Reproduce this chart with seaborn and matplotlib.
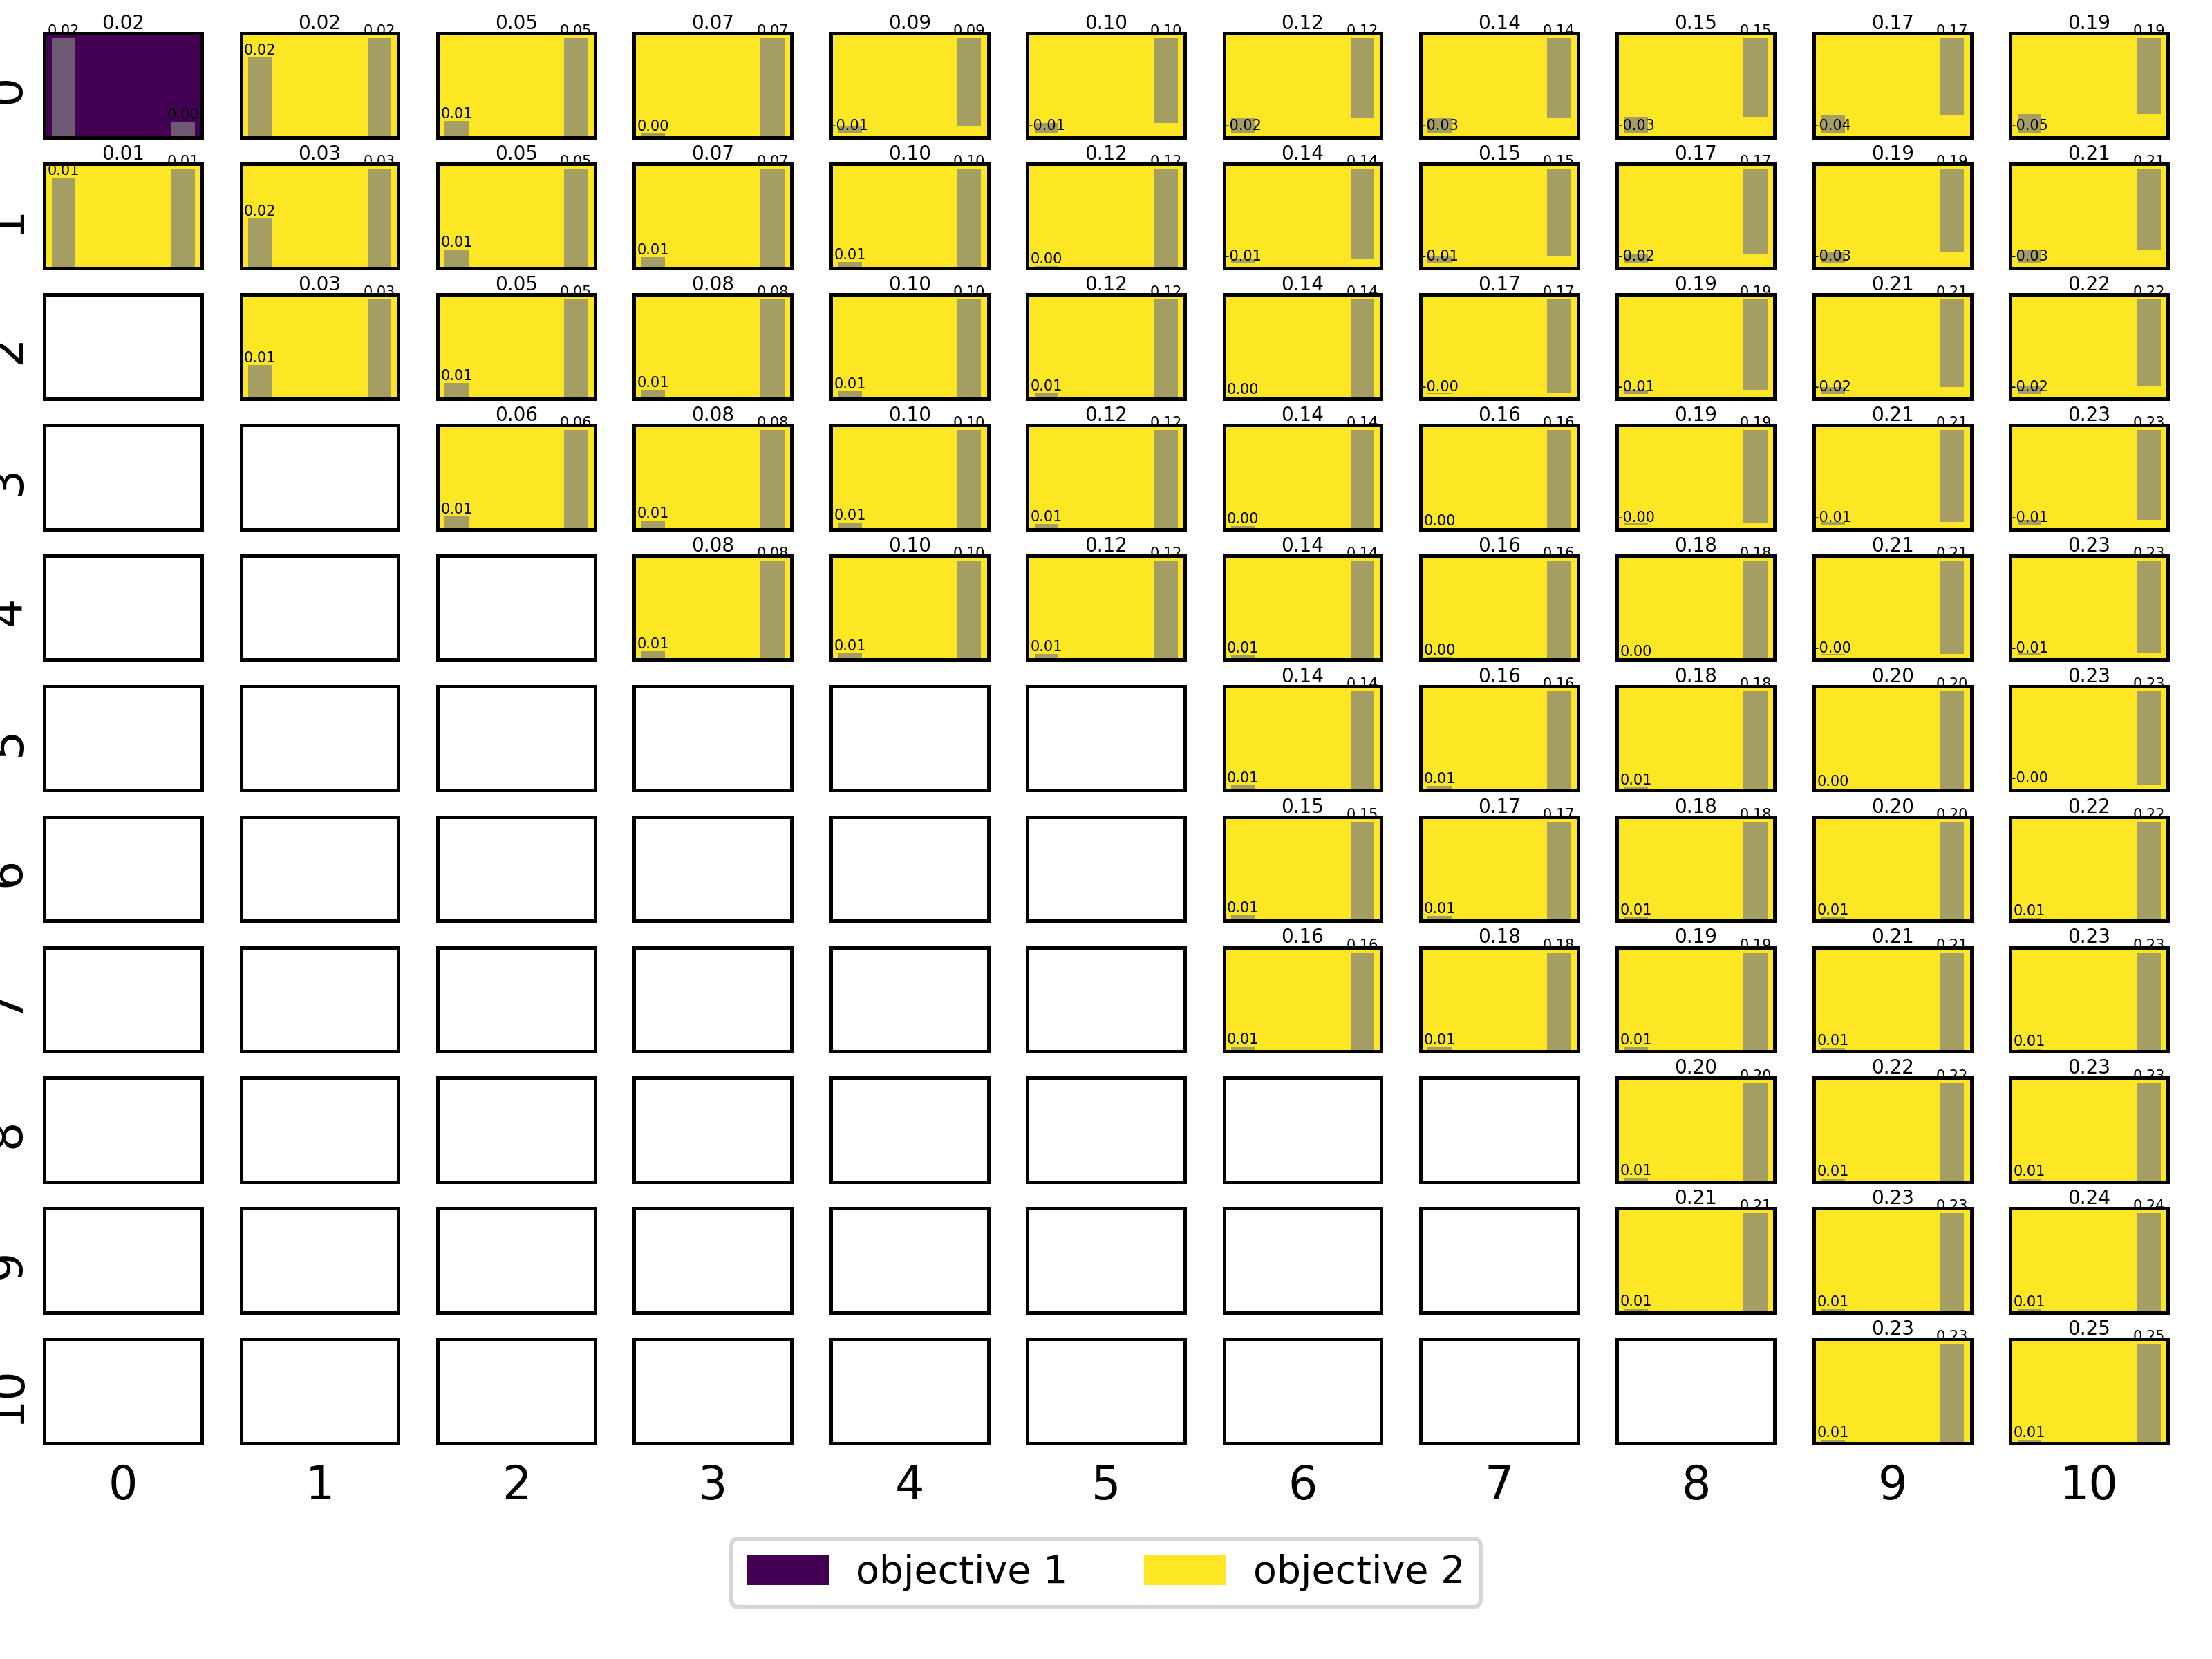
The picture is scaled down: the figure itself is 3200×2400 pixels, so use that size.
import numpy as np
import pandas as pd
import matplotlib
matplotlib.use("Agg")
import matplotlib.pyplot as plt
import seaborn as sns
from matplotlib.patches import Patch

nan = np.nan

row_labels = [str(i) for i in range(11)]
col_labels = [str(j) for j in range(11)]
legend_labels = ["objective 1", "objective 2"]

# value of objective 1 (left bar) per cell, NaN = empty cell
objective1 = [
    [0.021, 0.0181, 0.0083, 0.003, -0.007, -0.012, -0.022, -0.026, -0.031, -0.039, -0.046],
    [0.0096, 0.016, 0.0096, 0.008, 0.006, 0.002, -0.007, -0.013, -0.020, -0.026, -0.033],
    [nan, 0.0105, 0.0083, 0.007, 0.007, 0.006, 0.003, -0.002, -0.008, -0.016, -0.021],
    [nan, nan, 0.0074, 0.007, 0.007, 0.006, 0.004, 0.002, -0.002, -0.006, -0.011],
    [nan, nan, nan, 0.007, 0.007, 0.007, 0.006, 0.004, 0.002, -0.002, -0.006],
    [nan, nan, nan, nan, nan, nan, 0.007, 0.007, 0.006, 0.003, -0.002],
    [nan, nan, nan, nan, nan, nan, 0.008, 0.008, 0.007, 0.007, 0.006],
    [nan, nan, nan, nan, nan, nan, 0.008, 0.008, 0.008, 0.007, 0.007],
    [nan, nan, nan, nan, nan, nan, nan, nan, 0.008, 0.008, 0.008],
    [nan, nan, nan, nan, nan, nan, nan, nan, 0.008, 0.008, 0.008],
    [nan, nan, nan, nan, nan, nan, nan, nan, nan, 0.008, 0.008],
]

# value of objective 2 (right bar) per cell
objective2 = [
    [0.0033, 0.0224, 0.051, 0.070, 0.088, 0.104, 0.121, 0.138, 0.154, 0.171, 0.188],
    [0.0105, 0.032, 0.052, 0.072, 0.096, 0.118, 0.136, 0.153, 0.171, 0.189, 0.207],
    [nan, 0.031, 0.053, 0.077, 0.099, 0.120, 0.142, 0.166, 0.187, 0.207, 0.224],
    [nan, nan, 0.057, 0.080, 0.101, 0.122, 0.143, 0.164, 0.186, 0.208, 0.229],
    [nan, nan, nan, 0.082, 0.102, 0.123, 0.143, 0.163, 0.183, 0.206, 0.227],
    [nan, nan, nan, nan, nan, nan, 0.144, 0.164, 0.184, 0.204, 0.226],
    [nan, nan, nan, nan, nan, nan, 0.146, 0.166, 0.184, 0.203, 0.221],
    [nan, nan, nan, nan, nan, nan, 0.162, 0.178, 0.194, 0.210, 0.227],
    [nan, nan, nan, nan, nan, nan, nan, nan, 0.198, 0.217, 0.232],
    [nan, nan, nan, nan, nan, nan, nan, nan, 0.212, 0.228, 0.243],
    [nan, nan, nan, nan, nan, nan, nan, nan, nan, 0.232, 0.248],
]

W, H, DPI = 3200, 2400, 200
fig = plt.figure(figsize=(W / DPI, H / DPI), dpi=DPI)
cmap = plt.get_cmap("viridis")
c1, c2 = cmap(0.0), cmap(1.0)


def px_axes(left, top, width, height):
    return fig.add_axes([left / W, 1 - (top + height) / H, width / W, height / H])


n = len(row_labels)
main = px_axes(35.9, 34, 3164.3 - 35.9, 2078)
main.set_xlim(0, n)
main.set_ylim(n, 0)
main.set_xticks(np.arange(n) + 0.5, col_labels)
main.set_yticks(np.arange(n) + 0.5, row_labels)
main.tick_params(length=0, labelsize=24)
main.tick_params(axis="x", pad=1.8)
main.tick_params(axis="y", pad=-2.45, labelrotation=90)
plt.setp(main.get_yticklabels(), va="center")
for s in main.spines.values():
    s.set_visible(False)
main.patch.set_visible(False)

pitch_x, pitch_y = 284.4, 188.9
for i in range(n):
    for j in range(len(col_labels)):
        ax = px_axes(64.2 + pitch_x * j, 48.2 + pitch_y * i, 227.8, 150.6)
        for s in ax.spines.values():
            s.set_linewidth(1.8)
            s.set_color("black")
        v1 = objective1[i][j]
        v2 = objective2[i][j]
        if np.isnan(v1):
            ax.set_xticks([])
            ax.set_yticks([])
            continue
        ax.set_facecolor(c1 if v1 > v2 else c2)
        df = pd.DataFrame({"objective": legend_labels, "value": [v1, v2]})
        sns.barplot(data=df, x="objective", y="value", ax=ax, color="grey",
                    alpha=0.7, width=0.2, linewidth=0, errorbar=None)
        ax.set_xlim(-0.16, 1.16)
        ax.set_xlabel("")
        ax.set_ylabel("")
        ax.set_xticks([])
        ax.set_yticks([])
        for k, v in enumerate([v1, v2]):
            ax.text(k, v, f"{v:.2f}", ha="center", va="bottom", fontsize=7.5, zorder=2)
        ax.set_title(f"{max(v1, v2):.2f}", fontsize=10, pad=2.1)

handles = [Patch(facecolor=c1, edgecolor="none", lw=0),
           Patch(facecolor=c2, edgecolor="none", lw=0)]
leg = fig.legend(handles, legend_labels, loc="center",
                 bbox_to_anchor=(0.5, 1 - 2275.5 / H), ncol=2, fontsize=20,
                 frameon=True, fancybox=True, edgecolor="#d6d6d6", framealpha=1,
                 handlelength=2.14, handleheight=0.83, handletextpad=0.7,
                 columnspacing=2.0)
leg.get_frame().set_linewidth(2.2)

fig.savefig("out.png", dpi=DPI)
